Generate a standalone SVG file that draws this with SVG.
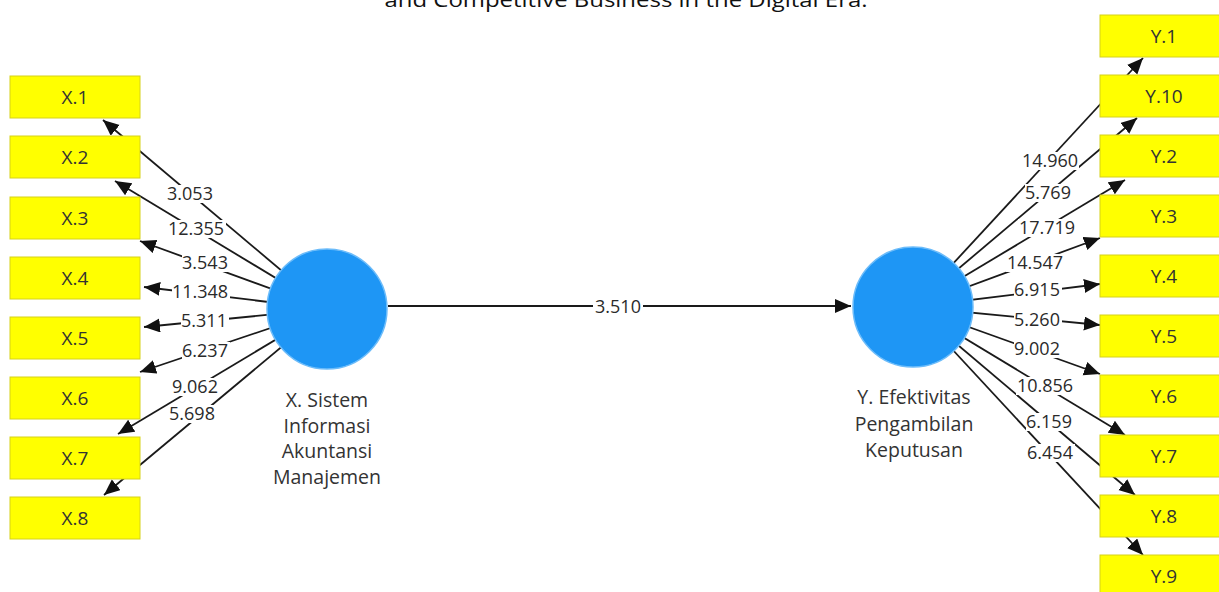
<svg xmlns="http://www.w3.org/2000/svg" width="1219" height="592" viewBox="0 0 1219 592">
<style>
.ln{stroke:#1a1a1a;stroke-width:1.8;fill:none;marker-end:url(#ah)}
.lb{fill:#ffffff}
.lt{font-family:"Open Sans","Noto Sans",sans-serif;font-size:18px;fill:#2a2a2a;text-anchor:middle}
.bx{fill:#ffff00;stroke:#d6d21a;stroke-width:1}
.bt{font-family:"Open Sans","Noto Sans",sans-serif;font-size:19px;fill:#333333;text-anchor:middle}
.lv{fill:#1e96f5;stroke:#6cbcfa;stroke-width:1.5}
.nt{font-family:"Open Sans","Noto Sans",sans-serif;font-size:19.5px;fill:#333333;text-anchor:middle}
</style>
<defs>
<marker id="ah" markerUnits="userSpaceOnUse" markerWidth="17" markerHeight="15" refX="16" refY="7" orient="auto">
<path d="M0,0 L16,7 L0,14 z" fill="#111111"/>
</marker>
</defs>
<rect width="1219" height="592" fill="#ffffff"/>
<text x="626" y="7" font-family="Open Sans, Noto Sans, sans-serif" font-size="20" fill="#111" text-anchor="middle" textLength="483" lengthAdjust="spacingAndGlyphs">and Competitive Business in the Digital Era.</text>

<g id="connectors">
<line class="ln" x1="388" y1="306" x2="851" y2="306"/>
<line class="ln" x1="327" y1="309" x2="103" y2="120"/>
<line class="ln" x1="327" y1="309" x2="115" y2="181"/>
<line class="ln" x1="327" y1="309" x2="140" y2="241"/>
<line class="ln" x1="327" y1="309" x2="144" y2="287"/>
<line class="ln" x1="327" y1="309" x2="144" y2="327"/>
<line class="ln" x1="327" y1="309" x2="140" y2="372"/>
<line class="ln" x1="327" y1="309" x2="118" y2="434"/>
<line class="ln" x1="327" y1="309" x2="104" y2="495"/>
<line class="ln" x1="913" y1="307" x2="1143" y2="58"/>
<line class="ln" x1="913" y1="307" x2="1137" y2="118"/>
<line class="ln" x1="913" y1="307" x2="1125" y2="180"/>
<line class="ln" x1="913" y1="307" x2="1100" y2="238"/>
<line class="ln" x1="913" y1="307" x2="1100" y2="284"/>
<line class="ln" x1="913" y1="307" x2="1100" y2="325"/>
<line class="ln" x1="913" y1="307" x2="1100" y2="374"/>
<line class="ln" x1="913" y1="307" x2="1125" y2="435"/>
<line class="ln" x1="913" y1="307" x2="1135" y2="495"/>
<line class="ln" x1="913" y1="307" x2="1143" y2="555"/>

<rect class="lb" x="593" y="297" width="50" height="19"/><text class="lt" x="618" y="313">3.510</text>

<rect class="lb" x="167" y="185" width="48" height="18"/><text class="lt" x="190" y="200">3.053</text>
<rect class="lb" x="168" y="220" width="58" height="18"/><text class="lt" x="196" y="235">12.355</text>
<rect class="lb" x="182" y="254" width="48" height="18"/><text class="lt" x="205" y="269">3.543</text>
<rect class="lb" x="172" y="283" width="58" height="18"/><text class="lt" x="200" y="298">11.348</text>
<rect class="lb" x="181" y="312" width="48" height="18"/><text class="lt" x="204" y="327">5.311</text>
<rect class="lb" x="182" y="342" width="48" height="18"/><text class="lt" x="205" y="357">6.237</text>
<rect class="lb" x="172" y="378" width="48" height="18"/><text class="lt" x="195" y="393">9.062</text>
<rect class="lb" x="169" y="405" width="48" height="18"/><text class="lt" x="192" y="420">5.698</text>

<rect class="lb" x="1021" y="152" width="58" height="18"/><text class="lt" x="1050" y="167">14.960</text>
<rect class="lb" x="1025" y="184" width="48" height="18"/><text class="lt" x="1048" y="199">5.769</text>
<rect class="lb" x="1018" y="219" width="58" height="18"/><text class="lt" x="1047" y="234">17.719</text>
<rect class="lb" x="1006" y="254" width="58" height="18"/><text class="lt" x="1035" y="269">14.547</text>
<rect class="lb" x="1014" y="281" width="48" height="18"/><text class="lt" x="1037" y="296">6.915</text>
<rect class="lb" x="1014" y="311" width="48" height="18"/><text class="lt" x="1037" y="326">5.260</text>
<rect class="lb" x="1014" y="340" width="48" height="18"/><text class="lt" x="1037" y="355">9.002</text>
<rect class="lb" x="1016" y="377" width="58" height="18"/><text class="lt" x="1045" y="392">10.856</text>
<rect class="lb" x="1026" y="413" width="48" height="18"/><text class="lt" x="1049" y="428">6.159</text>
<rect class="lb" x="1027" y="444" width="48" height="18"/><text class="lt" x="1050" y="459">6.454</text>
</g>

<g id="X1"><rect class="bx" x="10" y="76" width="130" height="42"/><text class="bt" x="75" y="104">X.1</text></g>
<g id="X2"><rect class="bx" x="10" y="136" width="130" height="42"/><text class="bt" x="75" y="164">X.2</text></g>
<g id="X3"><rect class="bx" x="10" y="197" width="130" height="42"/><text class="bt" x="75" y="225">X.3</text></g>
<g id="X4"><rect class="bx" x="10" y="257" width="130" height="42"/><text class="bt" x="75" y="285">X.4</text></g>
<g id="X5"><rect class="bx" x="10" y="317" width="130" height="42"/><text class="bt" x="75" y="345">X.5</text></g>
<g id="X6"><rect class="bx" x="10" y="377" width="130" height="42"/><text class="bt" x="75" y="405">X.6</text></g>
<g id="X7"><rect class="bx" x="10" y="437" width="130" height="42"/><text class="bt" x="75" y="465">X.7</text></g>
<g id="X8"><rect class="bx" x="10" y="497" width="130" height="42"/><text class="bt" x="75" y="525">X.8</text></g>

<g id="Y1"><rect class="bx" x="1100" y="15" width="130" height="42"/><text class="bt" x="1164" y="43">Y.1</text></g>
<g id="Y10"><rect class="bx" x="1100" y="75" width="130" height="42"/><text class="bt" x="1164" y="103">Y.10</text></g>
<g id="Y2"><rect class="bx" x="1100" y="135" width="130" height="42"/><text class="bt" x="1164" y="163">Y.2</text></g>
<g id="Y3"><rect class="bx" x="1100" y="195" width="130" height="42"/><text class="bt" x="1164" y="223">Y.3</text></g>
<g id="Y4"><rect class="bx" x="1100" y="255" width="130" height="42"/><text class="bt" x="1164" y="283">Y.4</text></g>
<g id="Y5"><rect class="bx" x="1100" y="315" width="130" height="42"/><text class="bt" x="1164" y="343">Y.5</text></g>
<g id="Y6"><rect class="bx" x="1100" y="375" width="130" height="42"/><text class="bt" x="1164" y="403">Y.6</text></g>
<g id="Y7"><rect class="bx" x="1100" y="435" width="130" height="42"/><text class="bt" x="1164" y="463">Y.7</text></g>
<g id="Y8"><rect class="bx" x="1100" y="495" width="130" height="42"/><text class="bt" x="1164" y="523">Y.8</text></g>
<g id="Y9"><rect class="bx" x="1100" y="555" width="130" height="42"/><text class="bt" x="1164" y="583">Y.9</text></g>

<g id="X"><circle class="lv" cx="327" cy="309" r="60"/>
<text class="nt" x="327" y="407">X. Sistem</text>
<text class="nt" x="327" y="433">Informasi</text>
<text class="nt" x="327" y="458">Akuntansi</text>
<text class="nt" x="327" y="484">Manajemen</text></g>

<g id="Y"><circle class="lv" cx="913" cy="307" r="60"/>
<text class="nt" x="914" y="404">Y. Efektivitas</text>
<text class="nt" x="914" y="431">Pengambilan</text>
<text class="nt" x="914" y="457">Keputusan</text></g>
</svg>
